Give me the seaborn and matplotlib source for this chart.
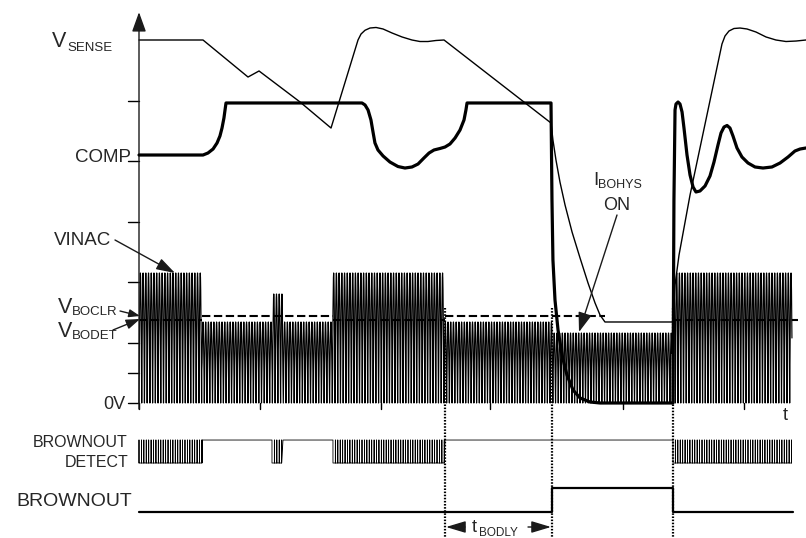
import numpy as np
import matplotlib
matplotlib.use("Agg")
import matplotlib.pyplot as plt
import seaborn as sns

# time in grid divisions, levels in vertical grid divisions (0 = 0V)
vsense_t = [0.000, 0.529, 0.901, 0.992, 1.331, 1.587,
            1.810, 1.835, 1.868, 1.909, 1.959, 2.017, 2.091, 2.174, 2.256, 2.322, 2.388, 2.455, 2.521,
            3.405, 3.421, 3.446, 3.479, 3.521, 3.579, 3.645, 3.711, 3.769, 3.810, 3.851,
            4.413, 4.430, 4.463, 4.504, 4.554,
            4.818, 4.843, 4.876, 4.917, 4.967, 5.025, 5.099, 5.182, 5.264, 5.347, 5.430, 5.512]
vsense_v = [6.000, 6.000, 5.388, 5.488, 4.975, 4.545,
            6.000, 6.099, 6.161, 6.198, 6.207, 6.182, 6.116, 6.050, 6.000, 5.975, 5.975, 5.992, 6.000,
            4.628, 4.347, 4.017, 3.653, 3.273, 2.826, 2.397, 1.983, 1.653, 1.455, 1.339,
            1.339, 1.950, 2.446, 2.893, 3.438,
            5.934, 6.066, 6.149, 6.190, 6.198, 6.182, 6.132, 6.050, 6.000, 5.975, 5.983, 6.000]

comp_t = [0.000, 0.529, 0.570, 0.612, 0.645, 0.669, 0.686, 0.702, 0.711, 0.719,
          1.843, 1.868, 1.893, 1.917, 1.934, 1.950, 1.975, 2.017, 2.074, 2.140,
          2.198, 2.256, 2.306, 2.355, 2.397, 2.438, 2.488, 2.529, 2.570, 2.612,
          2.653, 2.686, 2.702, 2.711,
          3.405, 3.413, 3.421, 3.438, 3.463, 3.496, 3.537, 3.587, 3.645, 3.727, 3.810,
          4.413, 4.421, 4.430, 4.438, 4.455, 4.471, 4.488, 4.504, 4.529, 4.554,
          4.579, 4.603, 4.636, 4.678, 4.719, 4.752, 4.785, 4.810, 4.835, 4.860,
          4.884, 4.909, 4.942, 4.983, 5.033, 5.091, 5.157, 5.231, 5.298, 5.364,
          5.421, 5.463, 5.512]
comp_v = [4.099, 4.099, 4.132, 4.198, 4.298, 4.413, 4.545, 4.711, 4.843, 4.959,
          4.959, 4.926, 4.843, 4.678, 4.479, 4.298, 4.182, 4.083, 3.983, 3.909,
          3.884, 3.901, 3.950, 4.050, 4.132, 4.182, 4.207, 4.231, 4.281, 4.380,
          4.512, 4.678, 4.843, 4.959,
          4.959, 3.355, 2.364, 1.702, 1.207, 0.793, 0.463, 0.215, 0.083, 0.017, 0.000,
          0.000, 3.355, 4.843, 4.942, 4.975, 4.942, 4.810, 4.545, 4.099, 3.769,
          3.570, 3.488, 3.504, 3.587, 3.752, 3.983, 4.264, 4.463, 4.562, 4.587,
          4.545, 4.413, 4.215, 4.066, 3.967, 3.901, 3.884, 3.901, 3.967, 4.066,
          4.165, 4.198, 4.215]

# VINAC: rectified line voltage, peak level per interval
vinac_bounds = [0.000, 0.521, 1.099, 1.186, 1.603, 2.521, 3.413, 4.405, 5.397]
vinac_peak = [2.149, 1.339, 1.802, 1.339, 2.149, 1.339, 1.157, 2.149]
vinac_cycle = 0.0225

# brownout thresholds (dashed)
thr_start = [0.000, 0.521, 1.603, 2.529, 4.413]
thr_end = [0.521, 1.603, 2.529, 3.851, 5.446]
thr_level = [1.372, 1.438, 1.372, 1.438, 1.372]

# BROWNOUT DETECT: 1 = pulsing, 0 = steady high
bd_bounds = [0.000, 0.521, 1.099, 1.190, 1.603, 2.529, 4.413, 5.405]
bd_pulsing = [1, 0, 1, 0, 1, 0, 1]
bd_high, bd_low = -0.612, -0.992
bd_step = 0.02

bo_t = [0.000, 3.413, 3.413, 4.413, 4.413, 5.405]
bo_v = [-1.802, -1.802, -1.405, -1.405, -1.802, -1.802]

event_t = [2.529, 3.413, 4.413]
xtick_t = [0, 1, 2, 2.9, 4, 5]
ytick_v = [0, 0.5, 1, 2, 3, 4, 5]

sns.set_theme(style="white")
plt.rcParams['font.family'] = ['Liberation Sans', 'DejaVu Sans']

W, H = 806, 538
fig = plt.figure(figsize=(W / 100, H / 100), dpi=100)
ax = fig.add_axes([0, 0, 1, 1])
ax.axis('off')


def px(x, y):
    return x / W, 1 - y / H


K = dict(color='black', sort=False, estimator=None, ax=ax)

# VINAC waveform
t = np.arange(0, vinac_bounds[-1], vinac_cycle / 12)
seg = np.clip(np.searchsorted(vinac_bounds, t, side='right') - 1, 0, len(vinac_peak) - 1)
v = np.array(vinac_peak)[seg] * np.abs(np.sin(np.pi * t / vinac_cycle))
sns.lineplot(x=t, y=v, lw=0.85, zorder=1, **K)

for a, b, lev in zip(thr_start, thr_end, thr_level):
    sns.lineplot(x=[a, b], y=[lev, lev], lw=1.5, linestyle=(0, (4, 1.7)), zorder=2, **K)

sns.lineplot(x=vsense_t, y=vsense_v, lw=1.0, zorder=3, **K)
sns.lineplot(x=comp_t, y=comp_v, lw=2.3, zorder=4, **K)

# BROWNOUT DETECT
bx, by = [], []
for i, p in enumerate(bd_pulsing):
    a, b = bd_bounds[i], bd_bounds[i + 1]
    if p:
        for tt in np.arange(a, b, bd_step):
            bx += [tt, tt, tt]
            by += [bd_low, bd_high, bd_low]
    else:
        bx += [a, b]
        by += [bd_high, bd_high]
sns.lineplot(x=bx, y=by, lw=0.6, **K)

sns.lineplot(x=bo_t, y=bo_v, lw=1.6, **K)

for te in event_t:
    sns.lineplot(x=[te, te], y=[1.57, -2.3], lw=1.6, linestyle=(0, (0.7, 0.7)), **K)

# axes with arrows and ticks
ax.annotate('', xy=(0, 6.46), xytext=(0, -0.1),
            arrowprops=dict(arrowstyle='-|>,head_length=1.0,head_width=0.36', color='k',
                            lw=1.0, shrinkA=0, shrinkB=0))
ax.annotate('', xy=(5.537, 0), xytext=(0, 0),
            arrowprops=dict(arrowstyle='-|>,head_length=1.0,head_width=0.36', color='k',
                            lw=1.0, shrinkA=0, shrinkB=0))
for yt in ytick_v:
    sns.lineplot(x=[-0.095, 0], y=[yt, yt], lw=1.0, **K)
for xt in xtick_t:
    sns.lineplot(x=[xt, xt], y=[0, -0.1], lw=1.0, **K)

ax.set_xlim(-139 / 121, (W - 139) / 121)
ax.set_ylim((403 - H) / 60.5, 403 / 60.5)

# labels
big, sub = 15.5, 9.5
fig.text(*px(52, 47), 'V', fontsize=big, va='baseline')
fig.text(*px(67, 51), 'SENSE', fontsize=sub, va='baseline')
fig.text(*px(131, 162), 'COMP', fontsize=13.5, va='baseline', ha='right')
fig.text(*px(111, 245), 'VINAC', fontsize=13.5, va='baseline', ha='right')
fig.text(*px(58, 313), 'V', fontsize=big, va='baseline')
fig.text(*px(72, 315), 'BOCLR', fontsize=sub, va='baseline')
fig.text(*px(58, 337), 'V', fontsize=big, va='baseline')
fig.text(*px(72, 339), 'BODET', fontsize=sub, va='baseline')
fig.text(*px(125, 409), '0V', fontsize=13, va='baseline', ha='right')
fig.text(*px(783, 420), 't', fontsize=13, va='baseline')
fig.text(*px(593, 185), 'I', fontsize=13.5, va='baseline')
fig.text(*px(598, 188), 'BOHYS', fontsize=9, va='baseline')
fig.text(*px(617, 210), 'ON', fontsize=13, va='baseline', ha='center')
fig.text(*px(128, 447), 'BROWNOUT', fontsize=11.5, va='baseline', ha='right')
fig.text(*px(128, 467), 'DETECT', fontsize=11.5, va='baseline', ha='right')
fig.text(*px(132, 506), 'BROWNOUT', fontsize=14, va='baseline', ha='right')
fig.text(*px(472, 532), 't', fontsize=13, va='baseline')
fig.text(*px(479, 535.5), 'BODLY', fontsize=8.5, va='baseline')


def arrow(tail, tip, hl=0.9, hw=0.3):
    ax.annotate('', xy=px(*tip), xytext=px(*tail), xycoords='figure fraction',
                textcoords='figure fraction',
                arrowprops=dict(arrowstyle=f'-|>,head_length={hl},head_width={hw}',
                                color='k', lw=1.0, shrinkA=0, shrinkB=0))


arrow((115, 240), (175, 273), 0.95, 0.3)
arrow((120, 311), (140, 316), 0.55, 0.2)
arrow((113, 330), (140, 319), 0.7, 0.25)
arrow((617, 215), (579, 332), 1.0, 0.35)
arrow((465, 527), (446, 527), 1.0, 0.3)
arrow((528, 527), (551, 527), 1.0, 0.3)

fig.savefig('out.png', dpi=100, facecolor='white')
